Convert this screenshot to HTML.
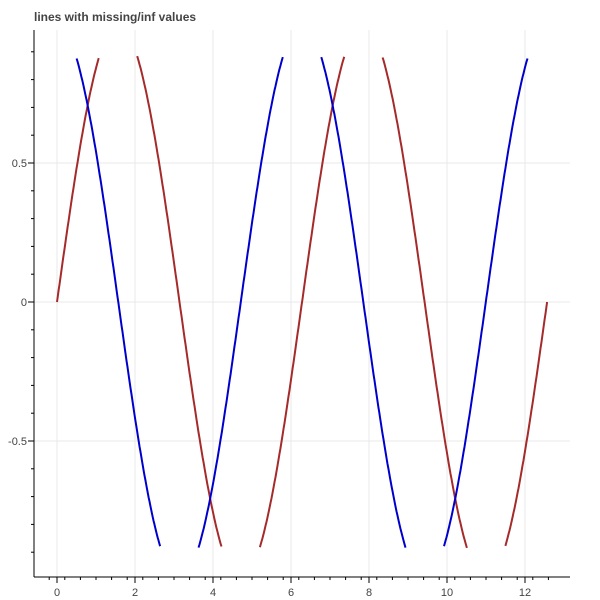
<!DOCTYPE html>
<html><head><style>
body{margin:0;background:#fff;}
svg{display:block;font-family:"Liberation Sans",sans-serif;}
</style></head><body>
<svg id="s" width="600" height="600" xmlns="http://www.w3.org/2000/svg">
<text x="34" y="21" font-size="12" font-weight="bold" fill="#444">lines with missing/inf values</text>
<g id="grid" stroke="#e9e9e9" stroke-width="1"></g>
<g id="ser" fill="none" stroke-width="2"></g>
<g id="ax" stroke="#000" stroke-width="1"></g>
<g id="lab" font-size="11" fill="#444"></g>
</svg>
<script>
var L=34,R=570,T=30,B=577;
function X(v){return 57+v*39;}function Y(v){return 302-v*278;}
var ns="http://www.w3.org/2000/svg";
function el(p,t,a,txt){var e=document.createElementNS(ns,t);for(var k in a)e.setAttribute(k,a[k]);if(txt!=null)e.textContent=txt;document.getElementById(p).appendChild(e);}
for(var i=0;i<=12;i+=2){el('grid','line',{x1:X(i),x2:X(i),y1:T,y2:B});el('ax','line',{x1:X(i),x2:X(i),y1:B,y2:B+6});el('lab','text',{x:X(i),y:596,'text-anchor':'middle'},String(i));}
for(var i=-0.6;i<=12.9;i+=0.4){var x=X(i);if(x>L&&x<R)el('ax','line',{x1:x,x2:x,y1:B,y2:B+3});}
[-0.5,0,0.5].forEach(function(v){el('grid','line',{x1:L,x2:R,y1:Y(v),y2:Y(v)});el('ax','line',{x1:L-6,x2:L,y1:Y(v),y2:Y(v)});el('lab','text',{x:27,y:Y(v)+4,'text-anchor':'end'},String(v));});
for(var v=-0.9;v<=0.95;v+=0.1){var y=Y(v);if(y>T&&y<B)el('ax','line',{x1:L-3,x2:L,y1:y,y2:y});}
el('ax','line',{x1:L,x2:L,y1:T,y2:B});el('ax','line',{x1:L,x2:R,y1:B,y2:B});
function path(f,c){var d='',pen=false,N=600;for(var k=0;k<N;k++){var x=4*Math.PI*k/(N-1),y=f(x);if(Math.abs(y)>0.885){pen=false;continue;}d+=(pen?'L':'M')+X(x).toFixed(1)+' '+Y(y).toFixed(1);pen=true;}el('ser','path',{d:d,stroke:c});}
path(Math.sin,'#a52a2a');path(Math.cos,'#0000cd');
</script>
</body></html>
